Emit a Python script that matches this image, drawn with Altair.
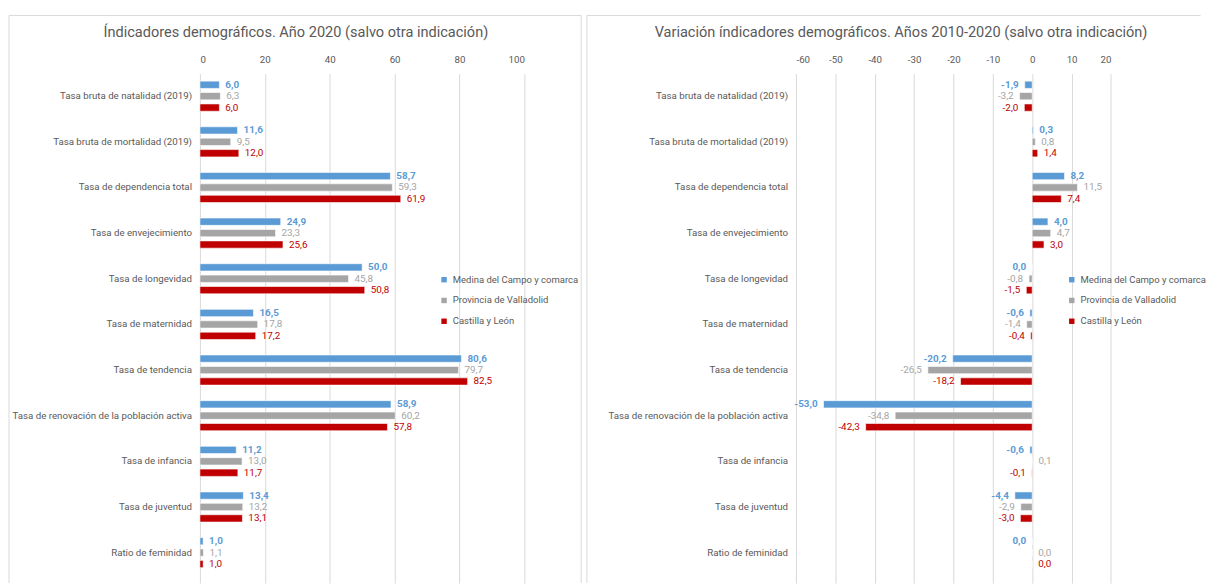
import altair as alt
import pandas as pd

FONT = "Roboto"

categories = [
    "Tasa bruta de natalidad (2019)",
    "Tasa bruta de mortalidad (2019)",
    "Tasa de dependencia total",
    "Tasa de envejecimiento",
    "Tasa de longevidad",
    "Tasa de maternidad",
    "Tasa de tendencia",
    "Tasa de renovación de la población activa",
    "Tasa de infancia",
    "Tasa de juventud",
    "Ratio de feminidad",
]
series = ["Medina del Campo y comarca", "Provincia de Valladolid", "Castilla y León"]
colors = ["#5B9BD5", "#A5A5A5", "#C00000"]

ind_medina = [6.0, 11.6, 58.7, 24.9, 50.0, 16.5, 80.6, 58.9, 11.2, 13.4, 1.0]
ind_prov = [6.3, 9.5, 59.3, 23.3, 45.8, 17.8, 79.7, 60.2, 13.0, 13.2, 1.1]
ind_cyl = [6.0, 12.0, 61.9, 25.6, 50.8, 17.2, 82.5, 57.8, 11.7, 13.1, 1.0]

var_medina = [-1.9, 0.3, 8.2, 4.0, -0.02, -0.6, -20.2, -53.0, -0.6, -4.4, -0.01]
var_prov = [-3.2, 0.8, 11.5, 4.7, -0.8, -1.4, -26.5, -34.8, 0.1, -2.9, 0.02]
var_cyl = [-2.0, 1.4, 7.4, 3.0, -1.5, -0.4, -18.2, -42.3, -0.1, -3.0, 0.01]

left_ticks = [0, 20, 40, 60, 80, 100]
right_ticks = [-60, -50, -40, -30, -20, -10, 0, 10, 20]


def label_of(v):
    v2 = abs(v) if round(v, 1) == 0 else v
    return f"{v2:.1f}".replace(".", ",")


def make_df(lists):
    rows = []
    for s, vals in zip(series, lists):
        for c, v in zip(categories, vals):
            rows.append({"category": c, "series": s, "value": v,
                         "label": label_of(v), "side": "right" if v >= 0 else "left"})
    return pd.DataFrame(rows)


def panel(df, domain, ticks, width, title, title_dx, legend_x, box):
    height = 515
    y = alt.Y("category:N", sort=categories, title=None,
              scale=alt.Scale(paddingInner=0.25, paddingOuter=0.206, align=0.29),
              axis=alt.Axis(labelFont=FONT, labelFontSize=9.8, labelColor="#595959",
                            labelPadding=8.5, ticks=False, domain=False, labelLimit=400))
    yoff = alt.YOffset("series:N", sort=series,
                       scale=alt.Scale(paddingInner=0.36, paddingOuter=0.18))
    x = alt.X("value:Q", title=None,
              scale=alt.Scale(domain=domain, nice=False, zero=False),
              axis=alt.Axis(orient="top", values=ticks, grid=True, gridColor="#D9D9D9",
                            domain=False, ticks=False, labelFont=FONT, labelFontSize=9.8,
                            labelColor="#595959", labelPadding=9,
                            labelExpr="'' + datum.value"))
    frame_data = pd.DataFrame({"k": [0]})
    x0, x1, y0, y1 = box
    frame = [
        alt.Chart(frame_data).mark_rule(color="#D9D9D9", strokeWidth=1).encode(
            x=alt.value(x0), x2=alt.value(x1), y=alt.value(y0)),
        alt.Chart(frame_data).mark_rule(color="#D9D9D9", strokeWidth=1).encode(
            x=alt.value(x0), y=alt.value(y0), y2=alt.value(y1)),
    ]
    if x1 < 400:
        frame.append(alt.Chart(frame_data).mark_rule(color="#D9D9D9", strokeWidth=1).encode(
            x=alt.value(x1), y=alt.value(y0), y2=alt.value(y1)))

    bars = alt.Chart(df).mark_bar(stroke="white", strokeWidth=0.6).encode(
        x=x, x2=alt.datum(0), y=y, yOffset=yoff,
        color=alt.Color("series:N", sort=series,
                        scale=alt.Scale(domain=series, range=colors),
                        legend=alt.Legend(orient="none", legendX=legend_x, legendY=203.5,
                                          title=None, symbolType="square", symbolSize=30,
                                          symbolStrokeWidth=0, labelFont=FONT,
                                          labelFontSize=9.6, labelColor="#595959",
                                          rowPadding=10, labelOffset=4)))
    texts = []
    for s, c in zip(series, colors):
        for side in ["right", "left"]:
            texts.append(
                alt.Chart(df)
                .transform_filter((alt.datum.series == s) & (alt.datum.side == side))
                .mark_text(align="left" if side == "right" else "right",
                           dx=6 if side == "right" else -6, baseline="middle",
                           font=FONT, fontSize=10,
                           fontWeight="bold" if s == series[0] else "normal", color=c)
                .encode(x=x, y=y, yOffset=yoff, text="label:N")
            )
    return alt.layer(*frame, bars, *texts).properties(
        width=width, height=height,
        title=alt.TitleParams(title, font=FONT, fontSize=14.7, fontWeight="normal",
                              color="#595959", anchor="middle", dx=title_dx, offset=-25),
    )


left = panel(make_df([ind_medina, ind_prov, ind_cyl]), [0, 100], left_ticks, 328,
             "Índicadores demográficos. Año 2020 (salvo otra indicación)", -67, 242,
             (-193, 385.4, -58.8, 515))
right = panel(make_df([var_medina, var_prov, var_cyl]), [-60, 20], right_ticks, 318.4,
              "Variación índicadores demográficos. Años 2010-2020 (salvo otra indicación)", -53, 274,
              (-211.3, 409, -58.8, 515))

chart = (
    alt.hconcat(left, right, spacing=4.5)
    .resolve_scale(color="independent")
    .properties(padding={"left": 0, "top": 3.2, "right": 0, "bottom": 0})
    .configure_view(stroke=None)
)

chart.save("out.html", embed_options={"renderer": "svg", "actions": False})
